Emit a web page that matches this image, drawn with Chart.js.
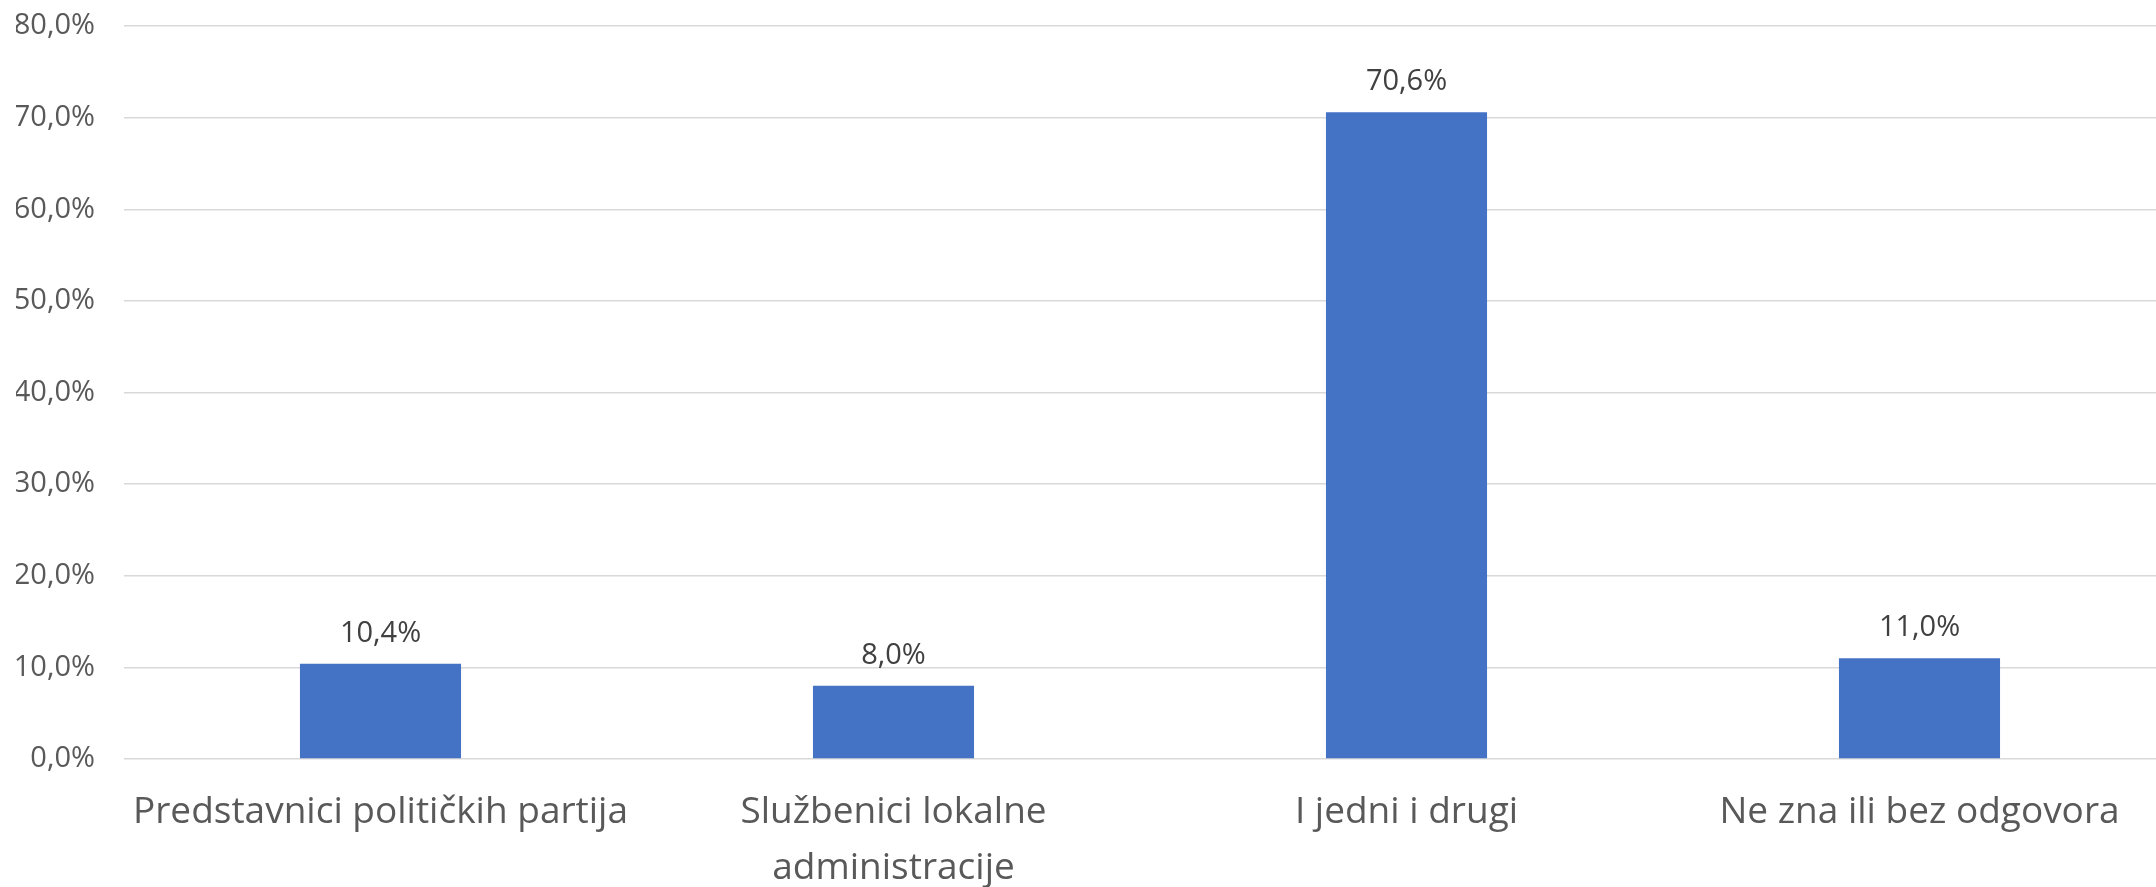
<!DOCTYPE html>
<html>
<head>
<meta charset="utf-8">
<script src="https://cdn.jsdelivr.net/npm/chart.js@4.4.1/dist/chart.umd.min.js"></script>
<style>
  html, body { margin: 0; padding: 0; background: #fff; overflow: hidden; }
  .wrap { position: relative; width: 2176px; height: 887px; }
</style>
</head>
<body>
<div class="wrap"><canvas id="chart"></canvas></div>
<script>
const categories = [
    'Predstavnici političkih partija',
    ['Službenici lokalne', 'administracije'],
    'I jedni i drugi',
    'Ne zna ili bez odgovora'
];
const shares = [10.4, 8.0, 70.6, 11.0];
const yTicks = [0, 10, 20, 30, 40, 50, 60, 70, 80];

const fmt = (v) => v.toFixed(1).replace('.', ',') + '%';

// value labels above each bar
const barLabels = {
    id: 'barLabels',
    afterDatasetsDraw(chart) {
        const ctx = chart.ctx;
        const meta = chart.getDatasetMeta(0);
        ctx.save();
        ctx.font = '29px "Open Sans"';
        ctx.fillStyle = '#404040';
        ctx.textAlign = 'center';
        ctx.textBaseline = 'middle';
        meta.data.forEach((bar, i) => {
            ctx.fillText(fmt(shares[i]), bar.x, bar.y - 30);
        });
        ctx.restore();
    }
};

new Chart(document.getElementById('chart'), {
    type: 'bar',
    data: {
        labels: categories,
        datasets: [{
            data: shares,
            backgroundColor: '#4472C4',
            borderWidth: 0,
            categoryPercentage: 1,
            barPercentage: 0.314
        }]
    },
    options: {
        responsive: true,
        maintainAspectRatio: false,
        animation: false,
        layout: {
            padding: { left: 16, top: 26, right: 0, bottom: 0 }
        },
        plugins: {
            legend: { display: false },
            tooltip: { enabled: false }
        },
        scales: {
            x: {
                grid: { display: false, drawTicks: false },
                border: { display: false },
                afterFit(axis) { axis.height = 128; },
                ticks: {
                    color: '#595959',
                    padding: 26,
                    maxRotation: 0,
                    autoSkip: false,
                    font: { family: '"Open Sans"', size: 37, lineHeight: 1.51 }
                }
            },
            y: {
                min: 0,
                max: 80,
                afterBuildTicks(axis) {
                    axis.ticks = yTicks.map(v => ({ value: v }));
                },
                afterFit(axis) {
                    axis.width = 108;
                    axis.paddingTop = 0;
                    axis.paddingBottom = 0;
                },
                grid: { color: '#d9d9d9', lineWidth: 1.5, drawTicks: false },
                border: { display: false },
                ticks: {
                    color: '#595959',
                    padding: 29,
                    font: { family: '"Open Sans"', size: 29 },
                    callback: (v) => fmt(v)
                }
            }
        }
    },
    plugins: [barLabels]
});
</script>
</body>
</html>
